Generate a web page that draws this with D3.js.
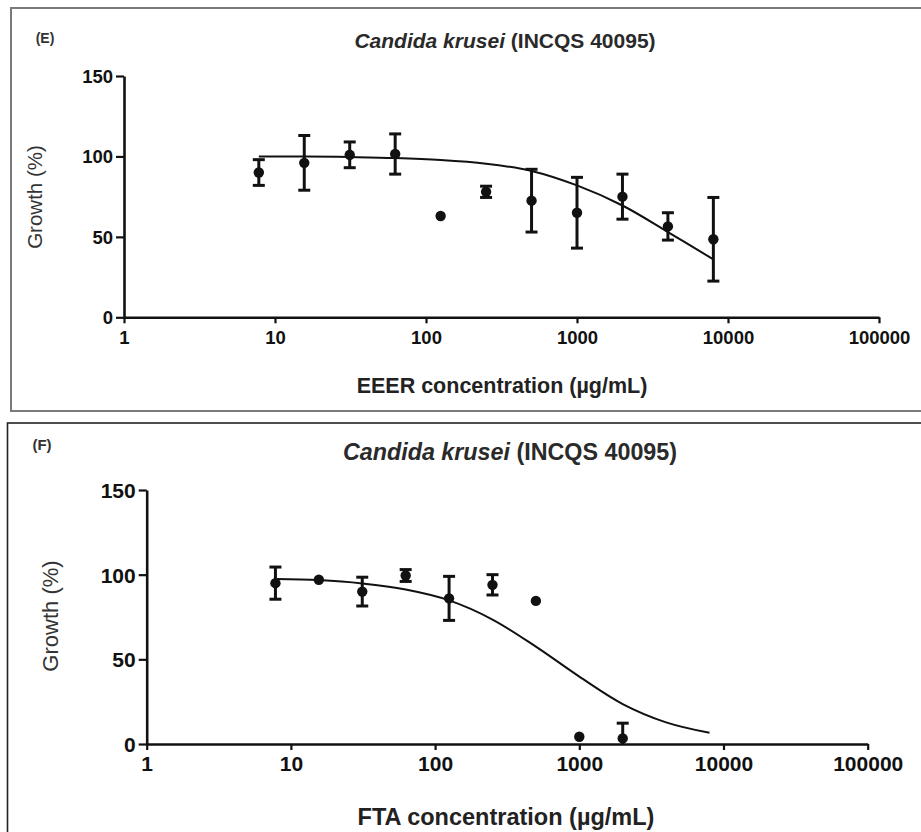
<!DOCTYPE html>
<html><head><meta charset="utf-8">
<script src="https://cdn.jsdelivr.net/npm/d3@7"></script>
<style>
body{margin:0;background:#fff}
svg{display:block}
text{font-family:"Liberation Sans",Arial,Helvetica,sans-serif}
</style>
</head><body>
<svg id="chart" width="921" height="832"></svg>
<script>
// ---------- data ----------
const concentrations = [7.8125, 15.625, 31.25, 62.5, 125, 250, 500, 1000, 2000, 4000, 8000];
const eeerGrowth = [90, 96, 101, 101.5, 63, 78, 72.5, 65, 75, 56.5, 48.5];
const eeerSD     = [8, 17, 8, 12.5, 0, 3.5, 19.5, 22, 14, 8.5, 26];
const eeerFit    = [100, 100, 99.6, 99, 97.8, 95.5, 91, 82, 69.5, 53, 36];
const ftaGrowth  = [95, 97, 90, 99.5, 86, 94, 84.5, 4.3, 3.3];
const ftaSD      = [9.5, 0, 8.5, 3.5, 13, 6, 0, 0, 9];
const ftaFit     = [97.5, 96.8, 94.8, 91.2, 84.8, 73.5, 57.5, 39.8, 23.6, 12.8, 6.6];
const xTicks = [1, 10, 100, 1000, 10000, 100000];
const yTicks = [0, 50, 100, 150];
const panelLabels = ["(E)", "(F)"];
const species = "Candida krusei";
const strain = " (INCQS 40095)";
const xLabels = ["EEER concentration (µg/mL)", "FTA concentration (µg/mL)"];
const yLabel = "Growth (%)";

// ---------- layout ----------
const panels = [
  { label: panelLabels[0], xLabel: xLabels[0], mean: eeerGrowth, sd: eeerSD, fit: eeerFit,
    border: {x: 11, y: 8, w: 930, h: 403, stroke: "#7a7a7a", sw: 2},
    x0: 124, x1: 879, yTop: 76, yBot: 317.3,
    tickFont: 18.5, titleFont: 21, xLabFont: 21.5, yLabFont: 20.5,
    titleX: 505, titleY: 48, xLabX: 502, xLabY: 393, xTickY: 344,
    yLabX: 35, yLabY: 197, pLabX: 45, pLabY: 43, pLabFont: 14 },
  { label: panelLabels[1], xLabel: xLabels[1], mean: ftaGrowth, sd: ftaSD, fit: ftaFit,
    border: {x: 7.5, y: 423, w: 940, h: 440, stroke: "#222", sw: 1.6},
    x0: 146.7, x1: 867.7, yTop: 490, yBot: 744,
    tickFont: 21, titleFont: 23.3, xLabFont: 23.5, yLabFont: 22,
    titleX: 510, titleY: 460, xLabX: 506, xLabY: 825, xTickY: 771,
    yLabX: 50, yLabY: 616, pLabX: 42, pLabY: 450, pLabFont: 15 }
];

const svg = d3.select("#chart");

panels.forEach(p => {
  const g = svg.append("g");
  g.append("rect")
    .attr("x", p.border.x).attr("y", p.border.y)
    .attr("width", p.border.w).attr("height", p.border.h)
    .attr("fill", "none").attr("stroke", p.border.stroke).attr("stroke-width", p.border.sw);

  const x = d3.scaleLog().domain([xTicks[0], xTicks[xTicks.length - 1]]).range([p.x0, p.x1]);
  const y = d3.scaleLinear().domain([yTicks[0], yTicks[yTicks.length - 1]]).range([p.yBot, p.yTop]);

  // axes
  const xAxis = d3.axisBottom(x).tickValues(xTicks).tickFormat(d3.format("d")).tickSize(6).tickSizeOuter(0);
  const yAxis = d3.axisLeft(y).tickValues(yTicks).tickSize(8).tickSizeOuter(0);

  const gx = g.append("g").attr("transform", `translate(0,${p.yBot})`).call(xAxis);
  const gy = g.append("g").attr("transform", `translate(${p.x0},0)`).call(yAxis);
  [gx, gy].forEach(a => {
    a.select(".domain").attr("stroke", "#111").attr("stroke-width", 2.6);
    a.selectAll(".tick line").attr("stroke", "#111").attr("stroke-width", 2.2);
    a.selectAll(".tick text").attr("fill", "#111").attr("font-size", p.tickFont)
      .attr("font-weight", "bold").attr("font-family", '"Liberation Sans",Arial,sans-serif');
  });
  gx.selectAll(".tick text").attr("y", null).attr("dy", null)
    .attr("transform", `translate(0,${p.xTickY - p.yBot})`);
  gy.selectAll(".tick text").attr("x", -11).attr("dy", "0.35em");

  // fitted curve
  const line = d3.line()
    .x((d, i) => x(concentrations[i]))
    .y(d => y(d))
    .curve(d3.curveCatmullRom.alpha(0.5));
  g.append("path").datum(p.fit).attr("d", line)
    .attr("fill", "none").attr("stroke", "#111").attr("stroke-width", 2);

  // error bars
  const pts = p.mean.map((m, i) => ({c: concentrations[i], m, s: p.sd[i]}));
  const capW = 6;
  const eb = g.append("g").attr("stroke", "#111").attr("stroke-width", 3);
  pts.filter(d => d.s > 0).forEach(d => {
    const cx = x(d.c);
    const lo = Math.max(yTicks[0], d.m - d.s), hi = d.m + d.s;
    eb.append("line").attr("x1", cx).attr("x2", cx).attr("y1", y(lo)).attr("y2", y(hi));
    eb.append("line").attr("x1", cx - capW).attr("x2", cx + capW).attr("y1", y(hi)).attr("y2", y(hi));
    if (d.m - d.s >= yTicks[0])
      eb.append("line").attr("x1", cx - capW).attr("x2", cx + capW).attr("y1", y(lo)).attr("y2", y(lo));
  });

  // points
  g.append("g").selectAll("circle").data(pts).join("circle")
    .attr("cx", d => x(d.c)).attr("cy", d => y(d.m)).attr("r", 5.2).attr("fill", "#111");

  // title
  const t = g.append("text").attr("x", p.titleX).attr("y", p.titleY)
    .attr("text-anchor", "middle").attr("font-size", p.titleFont)
    .attr("font-weight", "bold").attr("fill", "#2a2a2a");
  t.append("tspan").attr("font-style", "italic").text(species);
  t.append("tspan").text(strain);

  // axis labels
  g.append("text").attr("x", p.xLabX).attr("y", p.xLabY).attr("text-anchor", "middle")
    .attr("font-size", p.xLabFont).attr("font-weight", "bold").attr("fill", "#222").text(p.xLabel);
  g.append("text").attr("transform", `translate(${p.yLabX},${p.yLabY}) rotate(-90)`)
    .attr("text-anchor", "middle").attr("dy", "0.35em")
    .attr("font-size", p.yLabFont).attr("fill", "#333").text(yLabel);

  // panel label
  g.append("text").attr("x", p.pLabX).attr("y", p.pLabY).attr("text-anchor", "middle")
    .attr("font-size", p.pLabFont).attr("font-weight", "bold").attr("fill", "#333").text(p.label);
});
</script>
</body></html>
